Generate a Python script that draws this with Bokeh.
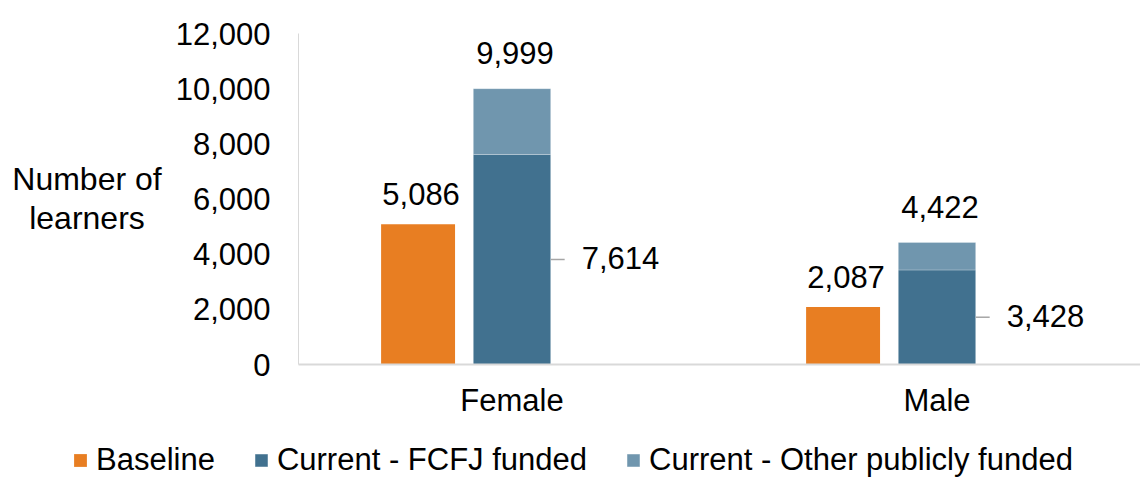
from bokeh.plotting import figure
from bokeh.models import (ColumnDataSource, Range1d, FixedTicker, Legend, LegendItem,
                          NumeralTickFormatter, Label)
from bokeh.core.properties import value
from bokeh.embed import file_html
from bokeh.resources import INLINE

# ---------------- data ----------------
categories = ["Female", "Male"]
baseline = [5086, 2087]
current_fcfj = [7614, 3428]
current_other = [2385, 994]
y_ticks = [0, 2000, 4000, 6000, 8000, 10000, 12000]
series_names = ["Baseline", "Current - FCFJ funded", "Current - Other publicly funded"]
y_label = "Number of\nlearners"

# ---------------- style / geometry ----------------
FONT = "Liberation Sans"
ORANGE = "#E87E22"
DARK = "#41718F"
LIGHT = "#7096AE"
AXIS = "#D9D9D9"
LEADER = "#A6A6A6"
FS = "31px"

W, H = 1140, 478
PX_X = 425.0            # px per category
PX_Y = 331.0 / 12000    # px per learner
AX_LEFT, AX_BOTTOM = 298, 364   # screen position of the axes' corner
CAT0_PX = 511.5                 # screen x of first category centre

X0 = 0.5 - CAT0_PX / PX_X
X1 = X0 + W / PX_X
Y0 = -(H - AX_BOTTOM) / PX_Y
Y1 = AX_BOTTOM / PX_Y


def dx(px):   # screen x -> data x
    return X0 + px / PX_X


def dy(py):   # screen y (from top) -> data y
    return (AX_BOTTOM - py) / PX_Y


cat_x = [i + 0.5 for i in range(len(categories))]
base_x = [c - 0.221 for c in cat_x]
BASE_W, CUR_W = 0.174, 0.182
totals = [a + b for a, b in zip(current_fcfj, current_other)]
edge_x = [c + CUR_W / 2 for c in cat_x]
edge_x1 = [e + 14 / PX_X for e in edge_x]
mid_y = [v / 2 for v in current_fcfj]

src = ColumnDataSource(dict(
    cat_x=cat_x, base_x=base_x, baseline=baseline, fcfj=current_fcfj, other=current_other,
    totals=totals, edge_x=edge_x, edge_x1=edge_x1, mid_y=mid_y,
    base_lbl=[f"{v:,}" for v in baseline],
    tot_lbl=[f"{v:,}" for v in totals],
    fcfj_lbl=[f"{v:,}" for v in current_fcfj],
))

p = figure(width=W, height=H, output_backend="svg", toolbar_location=None,
           x_range=Range1d(X0, X1), y_range=Range1d(Y0, Y1),
           min_border=0)
p.outline_line_color = None
p.xgrid.grid_line_color = None
p.ygrid.grid_line_color = None
p.background_fill_color = "white"
p.border_fill_color = "white"

r_base = p.vbar(x="base_x", top="baseline", width=BASE_W, source=src,
                fill_color=ORANGE, line_color=None)
r_stack = p.vbar_stack(["fcfj", "other"], x="cat_x", width=CUR_W, source=src,
                       fill_color=[DARK, LIGHT], line_color="white",
                       line_alpha=0.25, line_width=1)

# leader lines
p.segment(x0="edge_x", y0="mid_y", x1="edge_x1", y1="mid_y", source=src,
          line_color=LEADER, line_width=1.5)

common = dict(text_font=value(FONT), text_font_size=FS, text_color="black", source=src)
p.text(x="base_x", y="baseline", text="base_lbl", text_align="center",
       text_baseline="middle", x_offset=3, y_offset=-30, **common)
p.text(x="cat_x", y="totals", text="tot_lbl", text_align="center",
       text_baseline="middle", x_offset=3, y_offset=-36, **common)
p.text(x="edge_x", y="mid_y", text="fcfj_lbl", text_align="left",
       text_baseline="middle", x_offset=31, y_offset=-1, **common)

# axes, fixed inside the (full-canvas) frame
xax, yax = p.xaxis[0], p.yaxis[0]
xax.fixed_location = 0
xax.bounds = (dx(AX_LEFT), X1)
yax.fixed_location = dx(AX_LEFT)
yax.bounds = (0, 12000)
xax.ticker = FixedTicker(ticks=cat_x)
xax.major_label_overrides = {x: c for x, c in zip(cat_x, categories)}
yax.ticker = FixedTicker(ticks=y_ticks)
yax.formatter = NumeralTickFormatter(format="0,0")
for ax in (xax, yax):
    ax.axis_line_color = AXIS
    ax.major_tick_line_color = None
    ax.minor_tick_line_color = None
    ax.major_tick_out = 0
    ax.major_tick_in = 0
    ax.minor_tick_out = 0
    ax.minor_tick_in = 0
    ax.major_label_text_font = FONT
    ax.major_label_text_font_size = FS
    ax.major_label_text_color = "black"
xax.axis_line_width = 2
yax.axis_line_width = 1
yax.major_label_standoff = 28
xax.major_label_standoff = 18

# y label, horizontal
p.add_layout(Label(x=dx(86.5), y=dy(198), text=y_label, text_align="center",
                   text_baseline="middle", text_font=FONT, text_font_size="32px",
                   text_line_height=1.06, text_color="black"))

# legend at the bottom
items = [LegendItem(label=n, renderers=[r]) for n, r in
         zip(series_names, [r_base, r_stack[0], r_stack[1]])]
lg = Legend(items=items, location=(72, 0),
            orientation="horizontal", label_text_font=FONT, label_text_font_size="31px",
            label_text_color="black", glyph_width=16, glyph_height=16,
            label_standoff=8, padding=0, margin=0, spacing=38,
            border_line_color=None, background_fill_alpha=0)
p.add_layout(lg, "center")

open("out.html", "w").write(file_html(p, INLINE))
